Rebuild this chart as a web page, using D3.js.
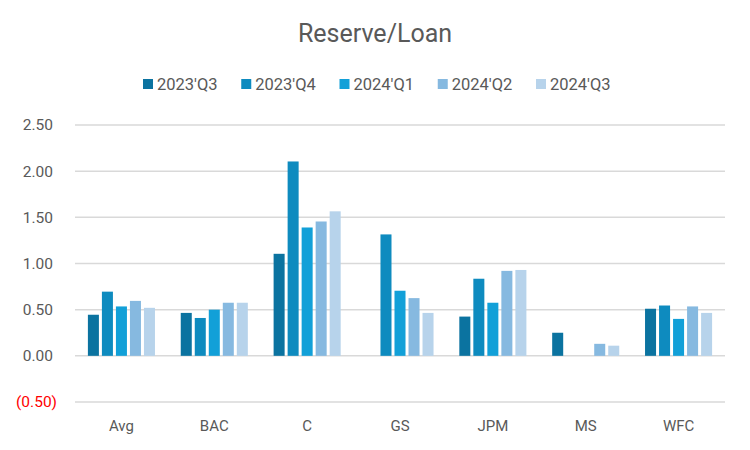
<!DOCTYPE html>
<html>
<head>
<meta charset="utf-8">
<script src="https://cdn.jsdelivr.net/npm/d3@7"></script>
<style>
  html, body { margin: 0; padding: 0; background: #fff; }
  svg { display: block; font-family: Roboto, "Liberation Sans", sans-serif; }
</style>
</head>
<body>
<svg id="chart" width="750" height="450"></svg>
<script>
const categories = ["Avg", "BAC", "C", "GS", "JPM", "MS", "WFC"];
const seriesNames = ["2023'Q3", "2023'Q4", "2024'Q1", "2024'Q2", "2024'Q3"];
const s2023Q3 = [0.445, 0.465, 1.105, null, 0.425, 0.25, 0.51];
const s2023Q4 = [0.695, 0.41, 2.105, 1.315, 0.835, null, 0.545];
const s2024Q1 = [0.535, 0.50, 1.39, 0.705, 0.575, null, 0.40];
const s2024Q2 = [0.595, 0.575, 1.455, 0.625, 0.92, 0.13, 0.535];
const s2024Q3 = [0.52, 0.575, 1.565, 0.465, 0.93, 0.11, 0.465];
const yTicks = [-0.5, 0, 0.5, 1.0, 1.5, 2.0, 2.5];
const colors = ["#0B73A0", "#0E8BBF", "#12A0D8", "#86B9E0", "#B7D3EB"];

const seriesValues = [s2023Q3, s2023Q4, s2024Q1, s2024Q2, s2024Q3];

const svg = d3.select("#chart");
const W = 750, H = 450;
const margin = { left: 75, right: 25, top: 125, bottom: 48 };

const x0 = d3.scaleBand().domain(categories).range([margin.left, W - margin.right]).padding(0);
const x1 = d3.scaleBand().domain(seriesNames).range([0, x0.bandwidth()])
  .paddingInner(0.214).paddingOuter(0.92);
const y = d3.scaleLinear().domain([-0.5, 2.5]).range([H - margin.bottom, margin.top]);
const color = d3.scaleOrdinal().domain(seriesNames).range(colors);

// title
svg.append("text")
  .attr("x", W / 2).attr("y", 42)
  .attr("text-anchor", "middle")
  .attr("font-size", 25)
  .attr("fill", "#595959")
  .text("Reserve/Loan");

// gridlines
svg.append("g").selectAll("line").data(yTicks).join("line")
  .attr("x1", margin.left).attr("x2", W - margin.right)
  .attr("y1", d => y(d)).attr("y2", d => y(d))
  .attr("stroke", "#D9D9D9").attr("stroke-width", 1.5);

// y labels
const fmt = d3.format(".2f");
svg.append("g").selectAll("text").data(yTicks).join("text")
  .attr("x", d => d < 0 ? 57 : 53)
  .attr("y", d => y(d))
  .attr("dy", "0.35em")
  .attr("text-anchor", "end")
  .attr("font-size", 15.5)
  .attr("fill", d => d < 0 ? "#FF0000" : "#595959")
  .text(d => d < 0 ? "(" + fmt(-d) + ")" : fmt(d));

// bars
const barData = [];
seriesNames.forEach((s, i) => {
  categories.forEach((c, j) => {
    const v = seriesValues[i][j];
    if (v !== null) barData.push({ series: s, cat: c, value: v });
  });
});
svg.append("g").selectAll("rect").data(barData).join("rect")
  .attr("x", d => x0(d.cat) + x1(d.series))
  .attr("width", x1.bandwidth())
  .attr("y", d => y(Math.max(0, d.value)))
  .attr("height", d => Math.abs(y(d.value) - y(0)))
  .attr("fill", d => color(d.series));

// x labels
svg.append("g").selectAll("text").data(categories).join("text")
  .attr("x", d => x0(d) + x0.bandwidth() / 2)
  .attr("y", 431)
  .attr("text-anchor", "middle")
  .attr("font-size", 15)
  .attr("fill", "#595959")
  .text(d => d);

// legend
const legend = svg.append("g");
const lx = d3.scalePoint().domain(seriesNames).range([143, 536]);
const item = legend.selectAll("g").data(seriesNames).join("g")
  .attr("transform", d => `translate(${lx(d)},79)`);
item.append("rect").attr("width", 10).attr("height", 10).attr("fill", d => color(d));
item.append("text").attr("x", 14).attr("y", 5).attr("dy", "0.35em")
  .attr("font-size", 16.5).attr("fill", "#595959").text(d => d);
</script>
</body>
</html>
